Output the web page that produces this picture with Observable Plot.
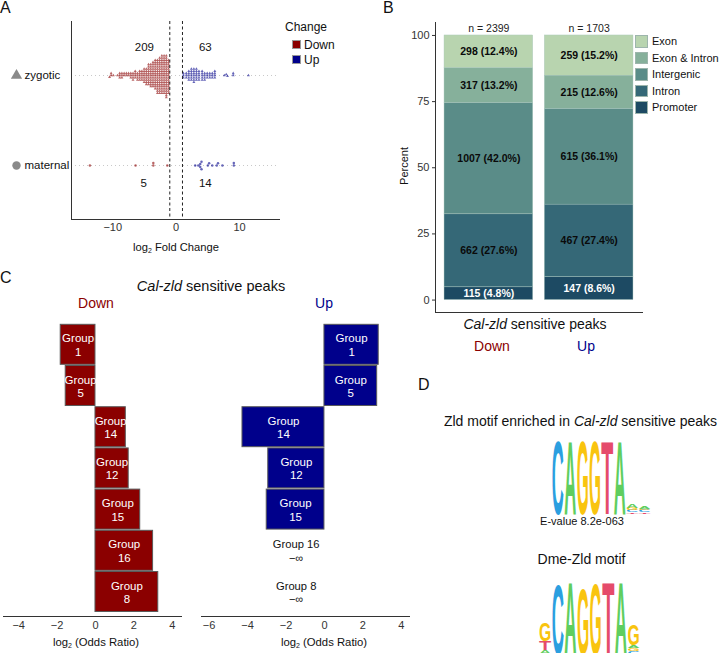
<!DOCTYPE html>
<html><head><meta charset="utf-8">
<script src="https://cdn.jsdelivr.net/npm/d3@7"></script>
<script src="https://cdn.jsdelivr.net/npm/@observablehq/plot@0.6"></script>
<style>
html,body{margin:0;padding:0;background:#fff}
#page{position:relative;width:720px;height:653px;overflow:hidden;font-family:"Liberation Sans",Arial,sans-serif;color:#111}
#page svg{position:absolute;background:transparent;max-width:none}
.lab{position:absolute;white-space:nowrap;line-height:1}
.lab sub{font-size:.62em;line-height:0;vertical-align:-.3em}
.sw{position:absolute}
</style></head><body><div id="page"></div>
<script>
// ---------- Panel A ----------
const stages = ["zygotic", "maternal"];
const stageSymbols = ["triangle", "circle"];
const changeLevels = ["Down", "Up"];
const changeColors = ["#8b0000", "#00008b"];
const zygDownBins =  [-1.2,-1.55,-1.9,-2.25,-2.6,-2.95,-3.3,-3.65,-4,-4.35,-4.7,-5.05,-5.4,-5.75,-6.1,-6.45,-6.8,-7.15,-7.5,-7.85,-8.2,-8.55,-8.9,-9.25,-9.9,-10.25,-10.5];
const zygDownCounts = [16,20,18,18,17,16,14,12,11,10,8,7,5,5,4,4,4,3,2,2,2,3,3,1,1,2,1];
const zygUpBins =   [1.15,1.6,2,2.4,2.8,3.2,3.6,4.1,4.5,4.9,5.3,5.7,6.1,7.6,7.9,8.1,9,11.4];
const zygUpCounts = [3,3,5,6,7,6,5,5,4,3,3,3,4,1,1,1,2,1];
const matDown = [-13.6,-6.4,-3.6,-3.6,-1.4];
const matUp = [3,3.5,3.8,3.8,4,4,5,5.2,5.7,6.4,6.6,7.3,9.1,9.1];
const countLabels = ["209","63","5","14"];
const countStage = ["zygotic","zygotic","maternal","maternal"];
const countX = [-5,4.6,-5.1,4.6];
const foldThresholds = [-1,1];

// ---------- Panel B ----------
const regions = ["Exon","Exon & Intron","Intergenic","Intron","Promoter"];
const regionColors = ["#b8d4af","#86b09b","#5a8c88","#356877","#1d4a63"];
const sides = ["Down","Up"];
const sideN = [2399,1703];
const downCounts = [298,317,1007,662,115];
const upCounts = [259,215,615,467,147];
const downPct = [12.4,13.2,42.0,27.6,4.8];
const upPct = [15.2,12.6,36.1,27.4,8.6];

// ---------- Panel C ----------
const groups = ["1","5","14","12","15","16","8"];
const oddsDown = [-1.81,-1.55,1.58,1.73,2.33,3.0,3.27];
const oddsUp = [2.82,2.74,-4.26,-2.92,-3.0,-Infinity,-Infinity];
const infLabelX = -1.47;

// ---------- Panel D ----------
const logoColors = {A:"#5fce5f",C:"#2b9fe0",G:"#f9c40f",T:"#e54b6b"};
const logo1Pos =    [1,2,3,4,5,6,7,7,7,7,8,8,8,8];
const logo1Letter = ["C","A","G","G","T","A","T","C","G","A","T","C","G","A"];
const logo1Bits =   [2,2,2,2,2,2,.03,.06,.05,.09,.03,.06,.04,.08];
const logo2Pos =    [1,1,1,2,3,4,5,6,7,8,8,8,8];
const logo2Letter = ["A","T","G","C","A","G","G","T","A","C","G","A","G"];
const logo2Bits =   [.1,.24,.5,1.93,2,1.83,1.96,2,2,.08,.08,.08,.58];

// ---------- helpers ----------
const page = document.getElementById("page");
const FONT = '"Liberation Sans",Arial,sans-serif';
function place(svg,left,top){svg.style.left=left+"px";svg.style.top=top+"px";page.appendChild(svg);}
function lab(html,x,y,o={}){
  const d=document.createElement("div");d.className="lab";d.innerHTML=html;
  d.style.left=x+"px";d.style.top=y+"px";
  d.style.fontSize=(o.size||12)+"px";d.style.color=o.color||"#111";
  const tx=o.anchor==="start"?"0":"-50%";
  d.style.transform=`translate(${tx},-50%)`+(o.rotate?` rotate(${o.rotate}deg)`:"");
  if(o.weight)d.style.fontWeight=o.weight;
  page.appendChild(d);
}
function swatch(x,y,w,h,color,stroke){
  const d=document.createElement("div");d.className="sw";
  d.style.cssText+=`left:${x}px;top:${y}px;width:${w}px;height:${h}px;background:${color};box-sizing:border-box;border:1px solid ${stroke||"#999"}`;
  page.appendChild(d);
}

// ---------- Panel A plot ----------
const expand=(bins,counts)=>bins.flatMap((b,i)=>Array(counts[i]).fill(b));
const swarmMark=(values,change,symbol,dy,r)=>Plot.dot(values,Plot.dodgeY({anchor:"middle",padding:0},
  {x:d=>d,r,fill:()=>change,fillOpacity:.6,symbol,dy}));
const axisStyle={fontFamily:FONT,fontSize:"11px",color:"#333",background:"transparent",overflow:"visible"};
place(Plot.plot({
  width:290,height:260,marginLeft:71,marginRight:11,marginTop:21,marginBottom:41,
  style:axisStyle,
  x:{domain:[-16.5,16.3],label:null},
  y:{type:"point",domain:stages,range:[75,165],padding:0,axis:null},
  color:{domain:changeLevels,range:changeColors},
  symbol:{domain:stages,range:stageSymbols},
  marks:[
    Plot.ruleY(stages,{y:d=>d,stroke:"#bbb",strokeWidth:.8,strokeDasharray:"1,3"}),
    swarmMark(expand(zygDownBins,zygDownCounts),"Down","triangle",-45,1.1),
    swarmMark(expand(zygUpBins,zygUpCounts),"Up","triangle",-45,1.1),
    swarmMark(matDown,"Down","circle",45,1.25),
    swarmMark(matUp,"Up","circle",45,1.25),
    Plot.ruleX(foldThresholds,{stroke:"#222",strokeWidth:1,strokeDasharray:"3,2.5"}),
    Plot.dot(stages,{y:d=>d,frameAnchor:"left",dx:-55,symbol:d=>d,fill:"#8a8a8a",r:4.2}),
    Plot.text(stages,{y:d=>d,frameAnchor:"left",dx:-47,textAnchor:"start",text:d=>d,fontSize:11.5,fill:"#111"}),
    Plot.text(countLabels,{filter:(d,i)=>i<2,x:(d,i)=>countX[i],y:(d,i)=>countStage[i],dy:-28,text:d=>d,fontSize:11.5,fill:"#111"}),
    Plot.text(countLabels,{filter:(d,i)=>i>=2,x:(d,i)=>countX[i],y:(d,i)=>countStage[i],dy:18,text:d=>d,fontSize:11.5,fill:"#111"}),
    Plot.frame({anchor:"left",stroke:"#333"}),
    Plot.frame({anchor:"bottom",stroke:"#333"}),
    Plot.axisX({ticks:[-10,0,10],tickSize:0,tickPadding:4,label:null,fill:"#333"})
  ]
}),0,0);
lab("log<sub>2</sub> Fold Change",176,248,{size:11.2});
lab("Change",285,27,{size:12,anchor:"start"});
changeLevels.forEach((c,i)=>{
  swatch(292,40+i*14.5,9,9,changeColors[i]);
  lab(c,304,45+i*14.5,{size:12,anchor:"start"});
});

// ---------- Panel B plot ----------
const rows=sides.flatMap((side,s)=>regions.map((region,i)=>{
  const count=(s?upCounts:downCounts)[i], share=(s?upPct:downPct)[i];
  return {side,region,pct:count/sideN[s]*100,label:`${count} (${share.toFixed(1)}%)`};
}));
const stackOrder=[...regions].reverse();
place(Plot.plot({
  width:280,height:340,marginLeft:65,marginRight:8,marginTop:22,marginBottom:28,
  style:axisStyle,
  x:{type:"band",domain:sides,paddingInner:.116,paddingOuter:.09,round:false,axis:null,label:null},
  y:{domain:[-4.7,104.9],label:null},
  color:{domain:regions,range:regionColors},
  marks:[
    Plot.axisY({ticks:[0,25,50,75,100],tickSize:3,tickPadding:3,label:null,fill:"#333",stroke:"#333"}),
    Plot.barY(rows,Plot.stackY({x:"side",y:"pct",fill:"region",order:stackOrder,stroke:"#a9c7bd",strokeWidth:.4})),
    Plot.text(rows,Plot.stackY({x:"side",y:"pct",z:"region",order:stackOrder,text:"label",fontWeight:"bold",fontSize:10.5,
      fill:{value:d=>d.region==="Promoter"?"#fff":"#0a0a0a",scale:null}})),
    Plot.text(sides,{x:d=>d,y:()=>100,text:(d,i)=>`n = ${sideN[i]}`,dy:-6.5,fontSize:10.5,fill:"#222"}),
    Plot.frame({anchor:"left",stroke:"#333"}),
    Plot.frame({anchor:"bottom",stroke:"#333"})
  ]
}),370,0);
lab("Percent",404,166,{size:11,rotate:-90});
lab("<i>Cal-zld</i> sensitive peaks",535,324,{size:14});
lab("Down",492,346,{size:14,color:changeColors[0]});
lab("Up",586,346,{size:14,color:changeColors[1]});
regions.forEach((r,i)=>{
  swatch(635,35+i*16.5,12.5,12.5,regionColors[i],"#9db5ac");
  lab(r,652,41+i*16.5,{size:11,anchor:"start"});
});

// ---------- Panel C plots ----------
function oddsPlot(values,color,domain,ticks,width,mL,mR){
  const data=groups.map((g,i)=>({g,v:values[i]}));
  const finite=data.filter(d=>Number.isFinite(d.v));
  const inf=data.filter(d=>!Number.isFinite(d.v));
  return Plot.plot({
    width,height:320,marginLeft:mL,marginRight:mR,marginTop:0,marginBottom:24,
    style:axisStyle,
    x:{domain,label:null},
    y:{domain:groups,range:[3.7,292.1],paddingInner:.03,paddingOuter:.015,round:false,axis:null,label:null},
    marks:[
      Plot.barX(finite,{y:"g",x1:()=>0,x2:"v",fill:color,stroke:"#5a5a5a",strokeWidth:1}),
      Plot.text(finite,{y:"g",x:d=>d.v/2,text:d=>`Group\n${d.g}`,fill:"#fff",fontSize:11.5,lineHeight:1.16}),
      Plot.text(inf,{y:"g",x:()=>infLabelX,text:d=>`Group ${d.g}\n\u2212\u221e`,fill:"#111",fontSize:11.2,lineHeight:1.2}),
      Plot.axisX({ticks,tickSize:0,tickPadding:5,label:null,fill:"#333"}),
      Plot.frame({anchor:"bottom",stroke:"#333"})
    ]
  });
}
place(oddsPlot(oddsDown,changeColors[0],[-4.79,4.48],[-4,-2,0,2,4],190,3,9),0,320);
place(oddsPlot(oddsUp,changeColors[1],[-6.39,4.42],[-6,-4,-2,0,2,4],225,6,11),195,320);
lab("<i>Cal-zld</i> sensitive peaks",211,286,{size:14.5});
lab("Down",96,302.5,{size:14,color:changeColors[0]});
lab("Up",324,302.5,{size:14,color:changeColors[1]});
lab("log<sub>2</sub> (Odds Ratio)",96,643,{size:11.3});
lab("log<sub>2</sub> (Odds Ratio)",324,643,{size:11.3});

// ---------- Panel D logos ----------
const ADV={A:.722,C:.722,G:.778,T:.611};
function logo(pos,letters,bits,width,height,npos){
  const cols=d3.range(1,npos+1);
  const base={};
  const stacked=pos.map((p,i)=>{const y0=base[p]||0;base[p]=y0+bits[i];return {p,letter:letters[i],bits:bits[i],y0};});
  const letterDomain=Object.keys(logoColors);
  const fitLetter=(index,scales,values,dims,ctx,next)=>{
    const g=next(index,scales,values,dims,ctx);
    const band=scales.x.bandwidth();
    d3.select(g).selectAll("text").each(function(i){
      const d=stacked[i];
      const yBottom=scales.y(d.y0), yTop=scales.y(d.y0+d.bits);
      const fs=100;
      const sx=band*.97/(ADV[d.letter]*fs), sy=(yBottom-yTop)/(.716*fs);
      const cx=scales.x(d.p)+band/2;
      this.setAttribute("transform",`translate(${cx},${yBottom}) scale(${sx},${sy})`);
      this.setAttribute("dy","0");
    });
    return g;
  };
  return Plot.plot({
    width,height,margin:0,style:{fontFamily:FONT,background:"transparent",overflow:"visible"},
    x:{type:"band",domain:cols,padding:0,round:false,axis:null},
    y:{domain:[0,2],axis:null},
    color:{domain:letterDomain,range:letterDomain.map(l=>logoColors[l])},
    marks:[Plot.text(stacked,{x:"p",y:"y0",text:"letter",fill:"letter",fontSize:100,fontWeight:"bold",lineAnchor:"bottom",render:fitLetter})]
  });
}
place(logo(logo1Pos,logo1Letter,logo1Bits,99,75,8),545,438);
place(logo(logo2Pos,logo2Letter,logo2Bits,101,73,8),532,580);
lab("Zld motif enriched in <i>Cal-zld</i> sensitive peaks",580.5,421,{size:14});
lab("E-value 8.2e-063",582,521,{size:11});
lab("Dme-Zld motif",581.5,559,{size:14});

// ---------- panel letters ----------
lab("A",0,8,{size:16,anchor:"start"});
lab("B",383,8,{size:16,anchor:"start"});
lab("C",0,278,{size:16,anchor:"start"});
lab("D",418,385,{size:16,anchor:"start"});
</script></body></html>
